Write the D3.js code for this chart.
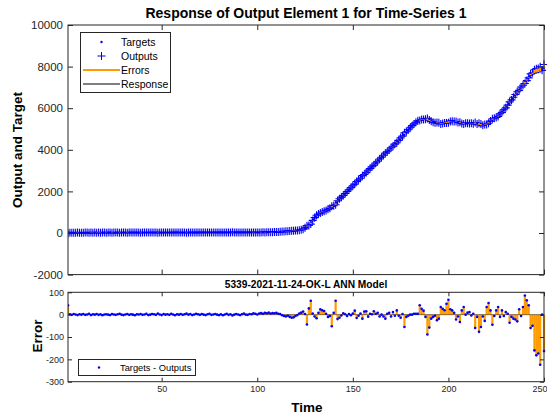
<!DOCTYPE html>
<html>
<head>
<meta charset="utf-8">
<script src="https://cdn.jsdelivr.net/npm/d3@7"></script>
<style>
  html, body { margin: 0; padding: 0; background: #fff; }
  svg { display: block; font-family: "Liberation Sans", Arial, Helvetica, sans-serif; }
</style>
</head>
<body>
<svg id="chart" width="547" height="419"></svg>
<script>
// Time-series targets (network target values, time steps 1..250)
const targets = [
  12, 15, 14, 16, 18, 17, 15, 14, 16, 19, 20, 18, 17, 19, 21, 20, 18, 19, 22, 21,
  20, 22, 21, 19, 20, 23, 22, 21, 24, 23, 22, 20, 21, 23, 25, 24, 22, 23, 21, 22,
  24, 25, 23, 22, 24, 26, 25, 23, 24, 22, 23, 25, 26, 24, 23, 25, 27, 26, 24, 25,
  26, 24, 23, 25, 27, 26, 25, 24, 26, 28, 27, 25, 26, 24, 25, 27, 28, 26, 25, 27,
  28, 26, 27, 29, 28, 26, 27, 28, 30, 29, 27, 28, 29, 28, 27, 29, 30, 31, 30, 29,
  30, 32, 35, 38, 40, 42, 45, 48, 50, 53, 56, 60, 64, 68, 72, 78, 85, 92, 100, 110,
  122, 140, 165, 200, 250, 310, 390, 490, 610, 730, 840, 920, 980, 1030, 1060, 1090, 1130, 1180, 1240, 1320,
  1420, 1530, 1630, 1720, 1810, 1900, 1990, 2080, 2180, 2280,
  2370, 2460, 2550, 2640, 2740, 2830, 2920, 3010, 3100, 3190,
  3280, 3370, 3460, 3550, 3640, 3730, 3820, 3910, 4000, 4090,
  4180, 4270, 4360, 4450, 4560, 4660, 4760, 4860, 4960, 5060,
  5160, 5250, 5330, 5400, 5450, 5480, 5480, 5460, 5420, 5380,
  5350, 5320, 5300, 5290, 5280, 5280, 5290, 5310, 5340, 5370,
  5390, 5390, 5370, 5340, 5310, 5290, 5280, 5280, 5280, 5280,
  5280, 5270, 5260, 5250, 5230, 5200, 5180, 5170, 5190, 5250,
  5330, 5400, 5450, 5510, 5570, 5640, 5720, 5820, 5920, 6030,
  6150, 6270, 6390, 6510, 6640, 6760, 6880, 7010, 7140, 7270,
  7390, 7500, 7590, 7650, 7690, 7720, 7740, 7770, 7820, 7940
];

// Errors (targets - outputs) for each time step
const errors = [
  42, 2, -1, 3, 1, -2, 2, 0, 3, -1, 1, 4, -2, 2, 0, 3, -1, 2, -3, 1,
  2, 0, -2, 3, 1, -1, 2, 4, 0, -2, 1, 3, -1, 2, 0, -3, 2, 1, 3, -1,
  1, 4, -2, 0, 3, 2, -1, 5, 1, -2, 3, 0, 2, -1, 4, 1, -3, 2, 0, 3,
  -1, 2, 5, 0, 3, -2, 1, 4, 2, -1, 3, 0, -2, 2, 4, -1, 1, 3, 0, -2,
  2, -3, 1, 4, -1, 2, -4, 0, 3, 1, -2, 2, 5, 0, -1, 3, 2, 6, 4, 1,
  5, 7, 4, 8, 6, 9, 5, 7, 6, 8, 4, 3, -3, -6, -8, -5, -10, -14, -12, -6,
  -2, 5, 9, 14, 3, -44, 28, 62, 5, -8, -16, 8, 24, 20, 16, 4, -10, -6, -52, 8,
  62, -20, -14, -4, 6, 2, -6, 3, -3, 5,
  18, -15, -5, 5, -18, 14, 15, -9, 4, 2,
  15, 4, 8, -8, 0, -8, -18, 4, 8, -8,
  12, -5, 19, -5, -14, 3, -55, -10, -5, 0,
  0, 4, 4, 4, 42, 26, 18, -10, -89, -58,
  -18, -10, -5, -25, -18, 34, 26, 20, 49, 67,
  24, 19, 8, -22, -8, -33, 19, 34, 0, 9,
  12, -4, 4, -60, -10, -77, -55, -8, -28, 34,
  52, 19, -45, -6, 19, 34, -10, 19, -6, 12,
  4, -36, -10, -18, -22, -30, 24, -6, 34, 86,
  64, 42, -60, -50, -160, -182, -174, -224, 0, -163
];

// Network outputs follow from the definition error = target - output
const outputs = targets.map((t, i) => t - errors[i]);
const timeSteps = targets.map((_, i) => i + 1);

const respTicks = [-2000, 0, 2000, 4000, 6000, 8000, 10000];
const errTicks = [-300, -200, -100, 0, 100];
const timeTicks = [50, 100, 150, 200, 250];

const titleText = "Response of Output Element 1 for Time-Series 1";
const subTitleText = "5339-2021-11-24-OK-L ANN Model";
const legendTop = ["Targets", "Outputs", "Errors", "Response"];
const legendBottom = "Targets - Outputs";

const AX = "#262626";
const BLUE = "#0000ff";
const ORANGE = "#ff9b00";
const plainNum = d => String(d);

const svg = d3.select("#chart");

const plotL = 68, plotR = 544;
const top1 = 25, bot1 = 274.6;
const top2 = 292.3, bot2 = 381.7;

const x = d3.scaleLinear().domain([1, 250]).range([plotL, plotR]);
const y1 = d3.scaleLinear().domain([-2000, 10000]).range([bot1, top1]);
const y2 = d3.scaleLinear().domain([-300, 100]).range([bot2, top2]);

// ---------- clip paths ----------
const defs = svg.append("defs");
defs.append("clipPath").attr("id", "clipTop").append("rect")
  .attr("x", plotL).attr("y", top1).attr("width", plotR - plotL + 3).attr("height", bot1 - top1);
defs.append("clipPath").attr("id", "clipBot").append("rect")
  .attr("x", plotL).attr("y", top2).attr("width", plotR - plotL + 3).attr("height", bot2 - top2);

// ---------- response panel ----------
const gTop = svg.append("g").attr("clip-path", "url(#clipTop)");

gTop.append("path")
  .datum(timeSteps)
  .attr("fill", "none").attr("stroke", "#000").attr("stroke-width", 1)
  .attr("d", d3.line().x(i => x(i)).y(i => y1(outputs[i - 1])));

gTop.selectAll("circle.tgt").data(timeSteps).join("circle")
  .attr("class", "tgt")
  .attr("cx", i => x(i)).attr("cy", i => y1(targets[i - 1]))
  .attr("r", 1.2).attr("fill", BLUE);

const plusPath = "M-4,0H4M0,-4V4";
gTop.selectAll("path.out").data(timeSteps).join("path")
  .attr("class", "out")
  .attr("transform", i => `translate(${x(i)},${y1(outputs[i - 1])})`)
  .attr("d", plusPath)
  .attr("stroke", BLUE).attr("stroke-width", 1.1).attr("fill", "none");

gTop.selectAll("line.err").data(timeSteps).join("line")
  .attr("class", "err")
  .attr("x1", i => x(i)).attr("x2", i => x(i))
  .attr("y1", i => y1(targets[i - 1])).attr("y2", i => y1(outputs[i - 1]))
  .attr("stroke", ORANGE).attr("stroke-width", 2);

// axes of the response panel (ticks pointing inward)
svg.append("g").attr("transform", `translate(${plotL},0)`)
  .call(d3.axisLeft(y1).tickValues(respTicks).tickSize(-5).tickPadding(5).tickFormat(plainNum))
  .call(g => g.select(".domain").remove())
  .call(g => g.selectAll("text").attr("fill", AX).attr("font-size", "11.5px").attr("font-family", "Liberation Sans, Arial, sans-serif"))
  .call(g => g.selectAll("line").attr("stroke", AX));
svg.append("g").attr("transform", `translate(${plotR},0)`)
  .call(d3.axisRight(y1).tickValues(respTicks).tickSize(-5).tickFormat(""))
  .call(g => g.select(".domain").remove())
  .call(g => g.selectAll("line").attr("stroke", AX));
svg.append("g").attr("transform", `translate(0,${bot1})`)
  .call(d3.axisBottom(x).tickValues(timeTicks).tickSize(-5).tickFormat(""))
  .call(g => g.select(".domain").remove())
  .call(g => g.selectAll("line").attr("stroke", AX));
svg.append("g").attr("transform", `translate(0,${top1})`)
  .call(d3.axisTop(x).tickValues(timeTicks).tickSize(-5).tickFormat(""))
  .call(g => g.select(".domain").remove())
  .call(g => g.selectAll("line").attr("stroke", AX));

svg.append("rect")
  .attr("x", plotL).attr("y", top1).attr("width", plotR - plotL).attr("height", bot1 - top1)
  .attr("fill", "none").attr("stroke", AX).attr("stroke-width", 1);

// title and y label
svg.append("text").attr("x", 306).attr("y", 18).attr("text-anchor", "middle")
  .attr("font-size", "14px").attr("font-weight", "bold").attr("fill", "#000").text(titleText);
svg.append("text").attr("transform", "translate(22,150) rotate(-90)").attr("text-anchor", "middle")
  .attr("font-size", "13.5px").attr("font-weight", "bold").attr("fill", "#000").text("Output and Target");

// legend of the response panel
const lg = svg.append("g");
lg.append("rect").attr("x", 80.5).attr("y", 32.5).attr("width", 90).attr("height", 60)
  .attr("fill", "#fff").attr("stroke", AX).attr("stroke-width", 1);
const rowY = [42, 56, 70, 84];
lg.append("circle").attr("cx", 101.5).attr("cy", rowY[0]).attr("r", 1.2).attr("fill", BLUE);
lg.append("path").attr("transform", `translate(101.5,${rowY[1]})`).attr("d", plusPath)
  .attr("stroke", BLUE).attr("stroke-width", 1);
lg.append("line").attr("x1", 83).attr("x2", 120).attr("y1", rowY[2]).attr("y2", rowY[2])
  .attr("stroke", ORANGE).attr("stroke-width", 2);
lg.append("line").attr("x1", 83).attr("x2", 120).attr("y1", rowY[3]).attr("y2", rowY[3])
  .attr("stroke", "#000").attr("stroke-width", 1);
lg.selectAll("text").data(legendTop).join("text")
  .attr("x", 121).attr("y", (d, i) => rowY[i]).attr("dy", "0.35em")
  .attr("font-size", "10.5px").attr("fill", "#000").text(d => d);

// ---------- error panel ----------
const gBot = svg.append("g").attr("clip-path", "url(#clipBot)");

gBot.selectAll("line.stem").data(timeSteps).join("line")
  .attr("class", "stem")
  .attr("x1", i => x(i)).attr("x2", i => x(i))
  .attr("y1", y2(0)).attr("y2", i => y2(errors[i - 1]))
  .attr("stroke", ORANGE).attr("stroke-width", 2.2);

gBot.append("line").attr("x1", plotL).attr("x2", plotR)
  .attr("y1", y2(0)).attr("y2", y2(0))
  .attr("stroke", "#6a5020").attr("stroke-width", 0.8);

gBot.selectAll("circle.edot").data(timeSteps).join("circle")
  .attr("class", "edot")
  .attr("cx", i => x(i)).attr("cy", i => y2(errors[i - 1]))
  .attr("r", 1.3).attr("fill", BLUE);

svg.append("g").attr("transform", `translate(${plotL},0)`)
  .call(d3.axisLeft(y2).tickValues(errTicks).tickSize(-4).tickPadding(4).tickFormat(plainNum))
  .call(g => g.select(".domain").remove())
  .call(g => g.selectAll("text").attr("fill", AX).attr("font-size", "9px").attr("font-family", "Liberation Sans, Arial, sans-serif"))
  .call(g => g.selectAll("line").attr("stroke", AX));
svg.append("g").attr("transform", `translate(${plotR},0)`)
  .call(d3.axisRight(y2).tickValues(errTicks).tickSize(-4).tickFormat(""))
  .call(g => g.select(".domain").remove())
  .call(g => g.selectAll("line").attr("stroke", AX));
svg.append("g").attr("transform", `translate(0,${bot2})`)
  .call(d3.axisBottom(x).tickValues(timeTicks).tickSize(-4).tickPadding(4).tickFormat(plainNum))
  .call(g => g.select(".domain").remove())
  .call(g => g.selectAll("text").attr("fill", AX).attr("font-size", "9px").attr("font-family", "Liberation Sans, Arial, sans-serif"))
  .call(g => g.selectAll("line").attr("stroke", AX))
  // the last label sits at the window edge; keep it inside the page
  .call(g => g.selectAll(".tick").filter(d => d === 250).select("text")
    .attr("text-anchor", "end").attr("x", 3));
svg.append("g").attr("transform", `translate(0,${top2})`)
  .call(d3.axisTop(x).tickValues(timeTicks).tickSize(-4).tickFormat(""))
  .call(g => g.select(".domain").remove())
  .call(g => g.selectAll("line").attr("stroke", AX));

svg.append("rect")
  .attr("x", plotL).attr("y", top2).attr("width", plotR - plotL).attr("height", bot2 - top2)
  .attr("fill", "none").attr("stroke", AX).attr("stroke-width", 1);

svg.append("text").attr("x", 306).attr("y", 287.5).attr("text-anchor", "middle")
  .attr("font-size", "10.2px").attr("font-weight", "bold").attr("fill", "#000").text(subTitleText);
svg.append("text").attr("transform", "translate(42,336) rotate(-90)").attr("text-anchor", "middle")
  .attr("font-size", "13.5px").attr("font-weight", "bold").attr("fill", "#000").text("Error");
svg.append("text").attr("x", 307).attr("y", 412).attr("text-anchor", "middle")
  .attr("font-size", "13.5px").attr("font-weight", "bold").attr("fill", "#000").text("Time");

// legend of the error panel
const lb = svg.append("g");
lb.append("rect").attr("x", 78.5).attr("y", 359.5).attr("width", 117).attr("height", 16)
  .attr("fill", "#fff").attr("stroke", AX).attr("stroke-width", 1);
lb.append("circle").attr("cx", 99).attr("cy", 367.5).attr("r", 1.2).attr("fill", BLUE);
lb.append("text").attr("x", 120).attr("y", 367.5).attr("dy", "0.35em")
  .attr("font-size", "9.3px").attr("fill", "#000").text(legendBottom);
</script>
</body>
</html>
